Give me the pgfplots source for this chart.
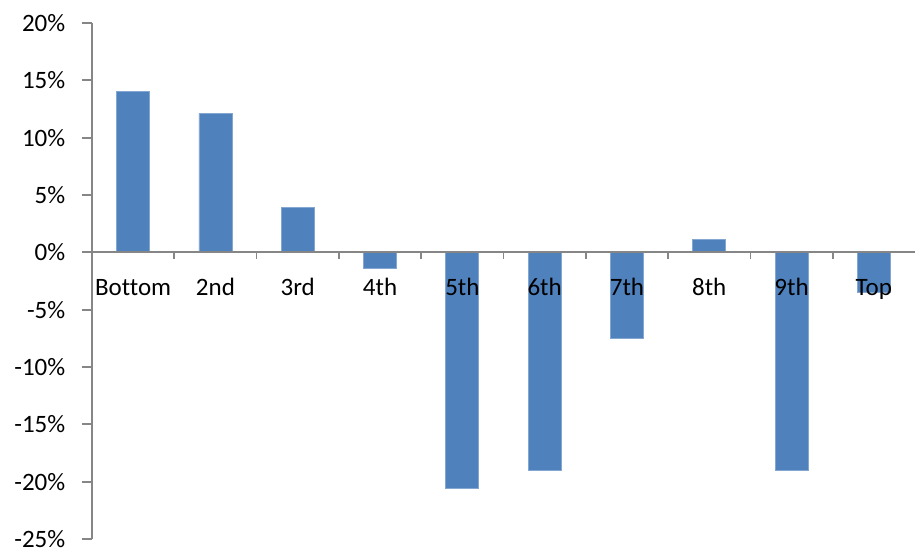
\documentclass[border=0pt]{standalone}
\usepackage{pgfplots}
\pgfplotsset{compat=1.18}
\usepackage{fontspec}
\setmainfont[Ligatures={NoCommon}]{Carlito}
\definecolor{barblue}{HTML}{4F81BD}
\definecolor{axgray}{HTML}{868686}
\begin{document}
\fontsize{12.5}{15}\selectfont
\begin{tikzpicture}
\path[use as bounding box] (-46pt,-6pt) rectangle (411.5pt,269.5pt);
\begin{axis}[
  scale only axis,
  width=411.5pt, height=258pt,
  xmin=-0.5, xmax=9.5,
  ymin=-25, ymax=20,
  axis x line*=middle,
  axis y line*=left,
  x axis line style={axgray, line width=0.9pt},
  y axis line style={axgray, line width=0.9pt},
  xtick={0,...,9},
  xticklabels={Bottom,2nd,3rd,4th,5th,6th,7th,8th,9th,Top},
  major x tick style={draw=none},
  xticklabel style={anchor=base, yshift=-21.5pt, font=\fontsize{12.5}{15}\selectfont},
  ytick={-25,-20,...,20},
  yticklabels={-25\%,-20\%,-15\%,-10\%,-5\%,0\%,5\%,10\%,15\%,20\%},
  ytick align=outside,
  major tick length=5pt,
  major y tick style={axgray, line width=0.9pt},
  yticklabel style={anchor=east, xshift=-4pt, font=\fontsize{12.5}{15}\selectfont},
  clip=false,
  axis on top=true,
]
\addplot[ybar, bar width=0.4, fill=barblue, draw=barblue!70!white, line width=0.4pt] coordinates {
 (0,14.0) (1,12.1) (2,3.9) (3,-1.4) (4,-20.6) (5,-19.0) (6,-7.5) (7,1.1) (8,-19.0) (9,-3.5)
};
\pgfplotsinvokeforeach{0.5,1.5,...,8.5}{
  \draw[axgray, line width=0.9pt] (axis cs:#1,0) -- ([yshift=-3.5pt]axis cs:#1,0);
}
\end{axis}
\end{tikzpicture}
\end{document}
